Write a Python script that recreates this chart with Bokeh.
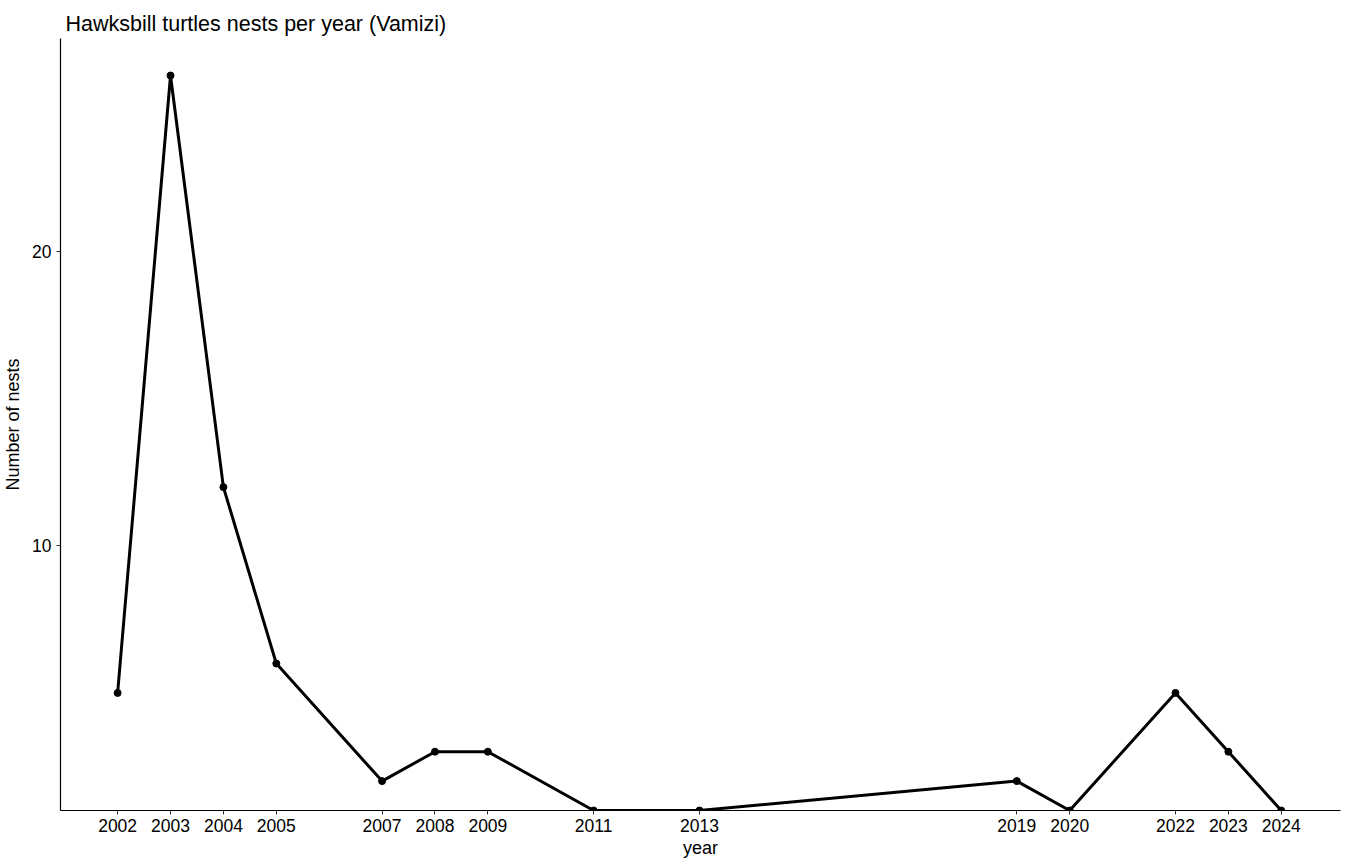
from bokeh.plotting import figure
from bokeh.models import Range1d, FixedTicker
from bokeh.embed import file_html
from bokeh.resources import INLINE

years = [2002, 2003, 2004, 2005, 2007, 2008, 2009, 2011, 2013, 2019, 2020, 2022, 2023, 2024]
nests = [5, 26, 12, 6, 2, 3, 3, 1, 1, 2, 1, 5, 3, 1]
y_ticks = [10, 20]
title_text = "Hawksbill turtles nests per year (Vamizi)"

FONT = "Liberation Sans"

p = figure(width=1350, height=868, output_backend="svg", toolbar_location=None,
           x_range=Range1d(2000.92, 2025.12), y_range=Range1d(1, 27.26),
           min_border_left=59, min_border_right=10, min_border_top=38, min_border_bottom=58)

p.title.text = title_text
p.title.text_font = FONT
p.title.text_font_size = "21.5px"
p.title.text_font_style = "normal"
p.title.text_color = "black"
p.title.align = "left"
p.title.offset = 5
p.title.standoff = 6

p.line(years, nests, line_width=3, color="black")
p.scatter(years, nests, size=7, color="black")

p.xgrid.visible = False
p.ygrid.visible = False
p.outline_line_color = None

p.xaxis.ticker = FixedTicker(ticks=years)
p.yaxis.ticker = FixedTicker(ticks=y_ticks)
for ax in (p.xaxis[0], p.yaxis[0]):
    ax.minor_tick_line_color = None
    ax.major_tick_out = 4
    ax.major_tick_in = 0
    ax.axis_line_color = "black"
    ax.axis_line_width = 1.2
    ax.major_tick_line_color = "#333333"
    ax.major_label_text_font = FONT
    ax.major_label_text_font_size = "17.5px"
    ax.major_label_text_color = "black"
    ax.axis_label_text_font = FONT
    ax.axis_label_text_font_size = "18px"
    ax.axis_label_text_font_style = "normal"
    ax.axis_label_text_color = "black"

p.xaxis.axis_label = "year"
p.yaxis.axis_label = "Number of nests"
p.xaxis.major_label_standoff = 4
p.xaxis.axis_label_standoff = 3
p.yaxis.major_label_standoff = 5
p.yaxis.axis_label_standoff = 6

open("out.html", "w").write(file_html(p, INLINE))
